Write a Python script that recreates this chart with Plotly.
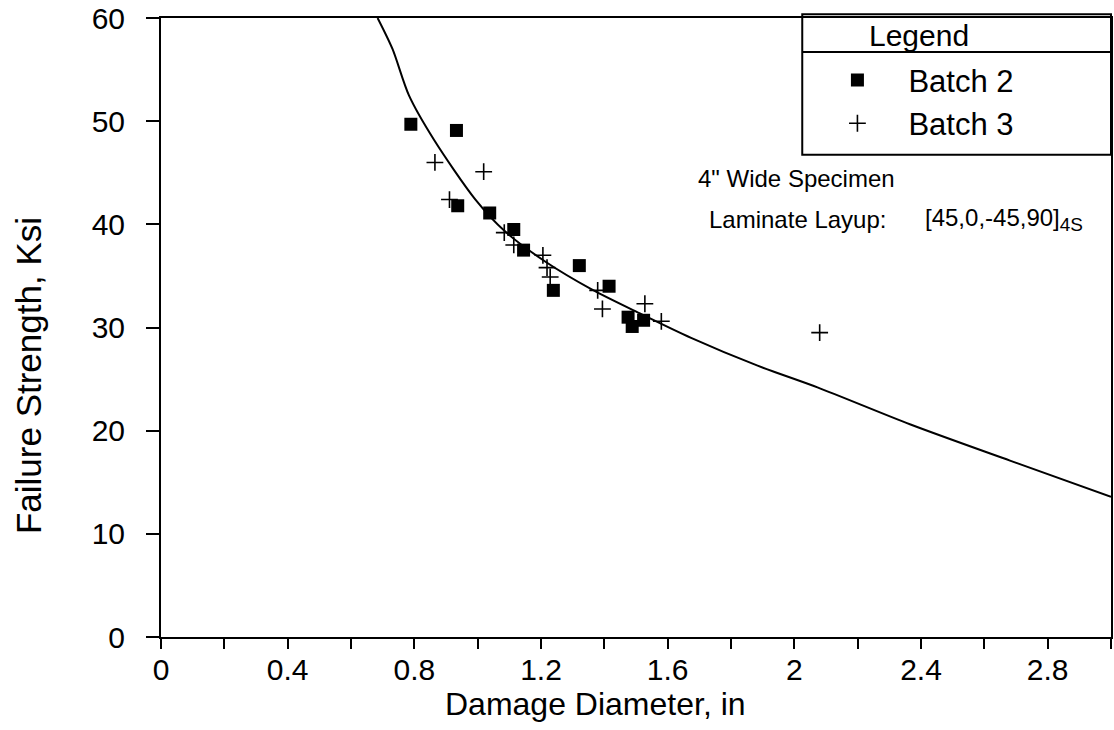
import plotly.graph_objects as go

# ---- data ----
curve_x = [0.684, 0.731, 0.783, 0.862, 0.993, 1.087, 1.213, 1.360, 1.517, 1.674, 1.884, 2.073, 2.367, 2.681, 3.0]
curve_y = [60.0, 57.0, 52.5, 48.2, 42.4, 39.3, 36.4, 33.7, 31.3, 29.0, 26.3, 24.2, 20.6, 17.1, 13.6]

batch2_x = [0.789, 0.933, 0.937, 1.038, 1.114, 1.145, 1.239, 1.321, 1.415, 1.475, 1.488, 1.524]
batch2_y = [49.7, 49.1, 41.8, 41.1, 39.5, 37.5, 33.6, 36.0, 34.0, 31.0, 30.1, 30.7]

batch3_x = [0.865, 0.911, 1.019, 1.084, 1.114, 1.206, 1.219, 1.229, 1.379, 1.394, 1.528, 1.580, 2.08]
batch3_y = [46.0, 42.4, 45.1, 39.2, 38.0, 37.0, 35.8, 34.9, 33.6, 31.8, 32.3, 30.6, 29.5]

x_tickvals = [0, 0.4, 0.8, 1.2, 1.6, 2.0, 2.4, 2.8]
x_ticktext = ["0", "0.4", "0.8", "1.2", "1.6", "2", "2.4", "2.8"]
y_tickvals = [0, 10, 20, 30, 40, 50, 60]
y_ticktext = ["0", "10", "20", "30", "40", "50", "60"]

FONT = "Liberation Sans, Arial, Helvetica, sans-serif"

fig = go.Figure()
fig.add_trace(go.Scatter(x=curve_x, y=curve_y, mode="lines", line=dict(color="black", width=2, shape="spline", smoothing=0.8),
                         showlegend=False, hoverinfo="skip"))
fig.add_trace(go.Scatter(x=batch2_x, y=batch2_y, mode="markers", name="Batch 2",
                         marker=dict(symbol="square", size=13, color="black")))
fig.add_trace(go.Scatter(x=batch3_x, y=batch3_y, mode="markers", name="Batch 3",
                         marker=dict(symbol="cross-thin", size=12, color="black", line=dict(color="black", width=1.6))))

fig.update_layout(
    width=1114, height=730,
    margin=dict(l=161, r=1, t=16, b=93),
    paper_bgcolor="white", plot_bgcolor="white",
    font=dict(family=FONT, color="black", size=30),
    xaxis=dict(range=[0, 3.0], tickvals=x_tickvals, ticktext=x_ticktext, ticks="outside", ticklen=10,
               tickwidth=1.5, tickcolor="black", showline=True, linecolor="black", linewidth=2, mirror=True,
               showgrid=False, zeroline=False, tickfont=dict(size=30), ticklabelstandoff=-5,
               ticklabeloverflow="allow",
               minor=dict(dtick=0.2, tick0=0, ticks="outside", ticklen=10, tickwidth=1.5, tickcolor="black")),
    yaxis=dict(range=[0, 60], tickvals=y_tickvals, ticktext=y_ticktext, ticks="outside", ticklen=13,
               tickwidth=1.5, tickcolor="black", showline=True, linecolor="black", linewidth=2, mirror=True,
               showgrid=False, zeroline=False, tickfont=dict(size=30), ticklabelstandoff=15,
               ticklabeloverflow="allow"),
    showlegend=True,
    legend=dict(x=0.6794, y=0.943, xanchor="left", yanchor="top", bgcolor="rgba(0,0,0,0)",
                borderwidth=0, font=dict(size=31, family=FONT), itemwidth=92, tracegroupgap=0),
)

# legend frame
fig.add_shape(type="rect", xref="paper", yref="paper", x0=0.675, x1=1.0, y0=0.779, y1=1.006,
              line=dict(color="black", width=2), fillcolor="rgba(0,0,0,0)")
fig.add_shape(type="line", xref="paper", yref="paper", x0=0.675, x1=1.0, y0=0.945, y1=0.945,
              line=dict(color="black", width=2))
fig.add_annotation(text="Legend", xref="paper", yref="paper", x=0.7983, y=0.972, showarrow=False,
                   xanchor="center", yanchor="middle", font=dict(size=30))

# text annotations
fig.add_annotation(text="4\" Wide Specimen", xref="paper", yref="paper", x=0.563, y=0.741, showarrow=False,
                   xanchor="left", yanchor="middle", font=dict(size=24))
fig.add_annotation(text="Laminate Layup:", xref="paper", yref="paper", x=0.5746, y=0.6747, showarrow=False,
                   xanchor="left", yanchor="middle", font=dict(size=24))
fig.add_annotation(text="[45,0,-45,90]<sub><span style='font-size:19px'>4S</span></sub>", xref="paper", yref="paper",
                   x=0.8025, y=0.6747, showarrow=False, xanchor="left", yanchor="middle", font=dict(size=24))

# axis titles
fig.add_annotation(text="Damage Diameter, in", xref="paper", yref="paper", x=0.457, y=-0.109, showarrow=False,
                   xanchor="center", yanchor="middle", font=dict(size=32))
fig.add_annotation(text="Failure Strength, Ksi", xref="paper", yref="paper", x=-0.1397, y=0.422, showarrow=False,
                   xanchor="center", yanchor="middle", textangle=-90, font=dict(size=35))

fig.write_html("out.html", config={"displayModeBar": False},
               post_script="document.body.style.margin='0';")
